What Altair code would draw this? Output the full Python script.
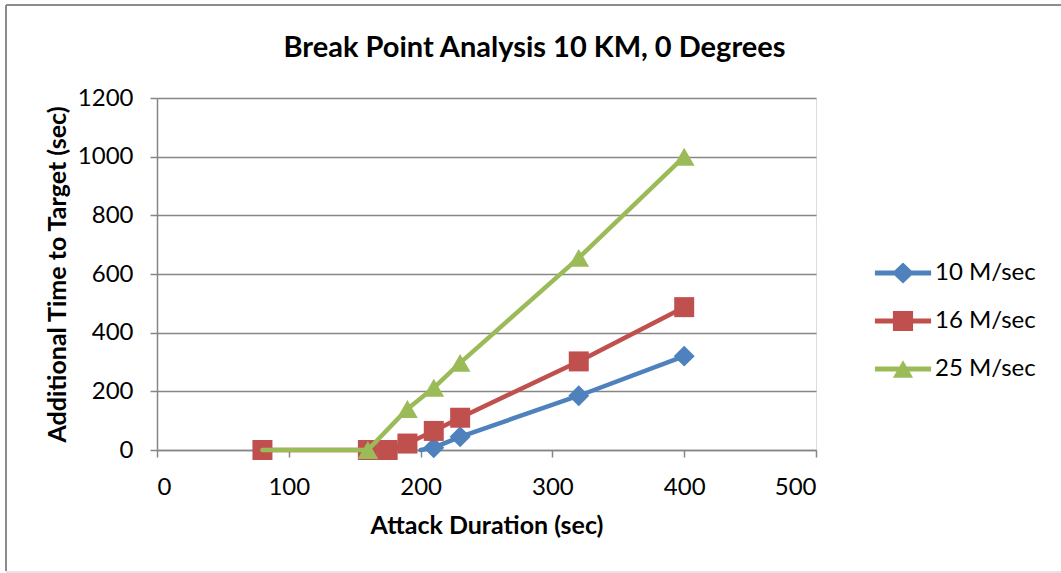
import altair as alt
import pandas as pd

# Series definitions
series_names = ["10 M/sec", "16 M/sec", "25 M/sec"]
series_colors = ["#4F81BD", "#C0504D", "#9BBB59"]
series_shapes = ["diamond", "square", "triangle-up"]

# Attack duration (sec) and additional time to target (sec) per series
dur_10 = [200, 210, 230, 320, 400]
time_10 = [0, 8, 45, 185, 320]

dur_16 = [80, 160, 175, 190, 210, 230, 320, 400]
time_16 = [0, 0, 0, 22, 65, 110, 302, 487]

dur_25 = [80, 160, 190, 210, 230, 320, 400]
time_25 = [0, 0, 140, 212, 297, 655, 1000]

# whether a point carries a marker
marker_10 = [False, True, True, True, True]
marker_16 = [True] * len(dur_16)
marker_25 = [False, True, True, True, True, True, True]

x_ticks = [0, 100, 200, 300, 400, 500]
y_ticks = [0, 200, 400, 600, 800, 1000, 1200]

rows = []
for name, xs, ys, ms in zip(series_names,
                            [dur_10, dur_16, dur_25],
                            [time_10, time_16, time_25],
                            [marker_10, marker_16, marker_25]):
    for i, (xv, yv, mv) in enumerate(zip(xs, ys, ms)):
        rows.append({"series": name, "idx": i, "dur": xv, "t": yv, "marker": mv})
df = pd.DataFrame(rows)

FONT = "Lato"
GRAY = "#868686"

x_enc = alt.X(
    "dur:Q",
    scale=alt.Scale(domain=[0, 500], nice=False),
    axis=alt.Axis(
        values=x_ticks, format="d", title="Attack Duration (sec)", grid=False,
        domainColor=GRAY, domainWidth=1.5, tickColor=GRAY, tickWidth=1.5, tickSize=7,
        labelFontSize=24, labelPadding=18, labelColor="black", labelFont=FONT,
        titleFont=FONT, titleFontSize=25, titleFontWeight="bold", titleColor="black",
        titlePadding=14,
    ),
)
y_enc = alt.Y(
    "t:Q",
    scale=alt.Scale(domain=[0, 1200], nice=False),
    axis=alt.Axis(
        values=y_ticks, format="d", title="Additional Time to Target (sec)", grid=True,
        gridColor=GRAY, gridWidth=1.5,
        domainColor=GRAY, domainWidth=1.5, tickColor=GRAY, tickWidth=1.5, tickSize=7,
        labelFontSize=24, labelPadding=17, labelColor="black", labelFont=FONT,
        titleFont=FONT, titleFontSize=25, titleFontWeight="bold", titleColor="black",
        titlePadding=7,
    ),
)

base = alt.Chart(df)

layers = []
for name, color, shape in zip(series_names, series_colors, series_shapes):
    sel = f"datum.series == '{name}'"
    line = base.transform_filter(sel).mark_line(
        color=color, strokeWidth=4.5, strokeCap="round", strokeJoin="round"
    ).encode(x=x_enc, y=y_enc, order="idx:Q")
    pts = base.transform_filter(sel).transform_filter("datum.marker").mark_point(
        shape=shape, filled=True, fill=color, opacity=1, strokeWidth=0,
        size=440 if shape == "diamond" else (400 if shape == "square" else 430),
    ).encode(x=x_enc, y=y_enc)
    layers += [line, pts]

# Legend: each symbol is a short line with the series marker on it
line_part = "M-1.17,-0.1 H1.17 V0.1 H-1.17 Z "
legend_paths = [
    line_part + "M0,-0.44 L0.46,0 L0,0.44 L-0.46,0 Z",
    line_part + "M-0.42,-0.42 H0.42 V0.42 H-0.42 Z",
    line_part + "M0,-0.36 L0.42,0.36 L-0.42,0.36 Z",
]
legend_opts = dict(
    title=None, orient="none", legendX=722, legendY=151, padding=0,
    symbolSize=2304, symbolStrokeWidth=0, symbolOpacity=1,
    labelFont=FONT, labelFontSize=24, labelColor="black",
    labelOffset=8, rowPadding=12,
)
legend_layer = base.transform_filter("datum.dur < 0").mark_point(
    filled=True, opacity=1, size=2304, strokeWidth=0
).encode(
    x=x_enc, y=y_enc,
    color=alt.Color(
        "series:N",
        scale=alt.Scale(domain=series_names, range=series_colors),
        legend=alt.Legend(**legend_opts),
    ),
    shape=alt.Shape(
        "series:N",
        scale=alt.Scale(domain=series_names, range=legend_paths),
        legend=alt.Legend(**legend_opts),
    ),
)

# Outer chart border (left, top and bottom edges)
edge = alt.Chart(pd.DataFrame({"k": [0]}))
edge_style = dict(stroke="#8c8c8c", strokeWidth=2, clip=False)
frame_left = edge.mark_rule(**edge_style).encode(
    x=alt.value(-151), y=alt.value(-93), y2=alt.value(473)
)
frame_top = edge.mark_rule(**edge_style).encode(
    x=alt.value(-151), x2=alt.value(904), y=alt.value(-93)
)
frame_bottom = edge.mark_rule(stroke="#e4e4e4", strokeWidth=2, clip=False).encode(
    x=alt.value(-151), x2=alt.value(904), y=alt.value(474)
)

chart = alt.layer(frame_left, frame_top, frame_bottom, *layers, legend_layer).properties(
    width=659,
    height=352,
    title=alt.TitleParams(
        "Break Point Analysis 10 KM, 0 Degrees",
        font=FONT, fontSize=29, fontWeight="bold", color="black",
        anchor="middle", dx=48, offset=-59,
    ),
    autosize=alt.AutoSizeParams(type="none"),
    padding={"left": 157, "top": 98, "right": 245, "bottom": 123},
).configure_view(stroke=None).configure(background="white")

chart.save("out.html", embed_options={"renderer": "svg", "actions": False})
